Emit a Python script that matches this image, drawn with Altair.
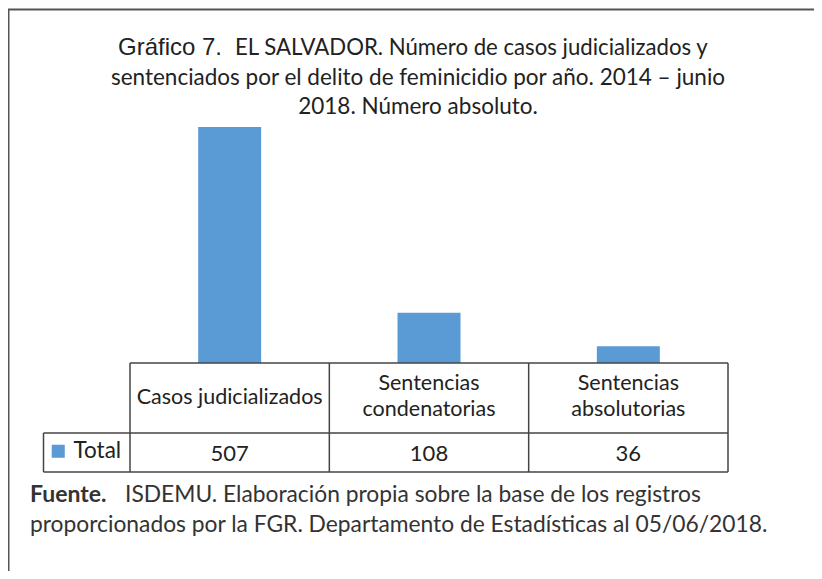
import altair as alt
import pandas as pd

categories = ["Casos judicializados", "Sentencias\ncondenatorias", "Sentencias\nabsolutorias"]
values = [507, 108, 36]
series_name = "Total"

title_lead = "Gráfico 7."
title_line1 = "EL SALVADOR. Número de casos judicializados y"
title_line2 = "sentenciados por el delito de feminicidio por año. 2014 – junio"
title_line3 = "2018. Número absoluto."
source_bold = "Fuente."
source_line1 = "ISDEMU. Elaboración propia sobre la base de los registros"
source_line2 = "proporcionados por la FGR. Departamento de Estadísticas al 05/06/2018."

df = pd.DataFrame({"cat": categories, "val": values, "series": [series_name] * 3})

W, H = 806, 563
CAL = "Lato"
xscale = alt.Scale(domain=categories, range=[122, 720], paddingInner=0, paddingOuter=0)
yscale = alt.Scale(domain=[0, 507], range=[355, 119], nice=False, zero=True)
X = alt.X("cat:N", scale=xscale, axis=None, sort=categories)

bars = alt.Chart(df).mark_bar(width=63, color="#5B9BD5").encode(
    x=X,
    y=alt.Y("val:Q", scale=yscale, axis=None),
    color=alt.Color("series:N", scale=alt.Scale(range=["#5B9BD5"]),
                    legend=alt.Legend(orient="none", legendX=39, legendY=432, title=None,
                                      symbolType="square", symbolSize=170, symbolStrokeWidth=0,
                                      labelFont=CAL, labelFontSize=22.5, labelColor="#222",
                                      symbolOffset=0, labelOffset=4)),
)

line_color = "#444"
vlines = alt.Chart(df).mark_rule(color=line_color, strokeWidth=1.5).encode(
    x=alt.X("cat:N", scale=xscale, axis=None, sort=categories, bandPosition=0),
    y=alt.value(355), y2=alt.value(464),
)
vlast = alt.Chart(df.tail(1)).mark_rule(color=line_color, strokeWidth=1.5).encode(
    x=alt.X("cat:N", scale=xscale, axis=None, sort=categories, bandPosition=1),
    y=alt.value(355), y2=alt.value(464),
)
hl = pd.DataFrame({"k": [0]})
h1 = alt.Chart(hl).mark_rule(color=line_color, strokeWidth=1.5).encode(
    x=alt.value(122), x2=alt.value(720), y=alt.value(355))
h2 = alt.Chart(hl).mark_rule(color=line_color, strokeWidth=1.5).encode(
    x=alt.value(35.5), x2=alt.value(720), y=alt.value(425))
h3 = alt.Chart(hl).mark_rule(color=line_color, strokeWidth=1.5).encode(
    x=alt.value(35.5), x2=alt.value(720), y=alt.value(464))
v0 = alt.Chart(hl).mark_rule(color=line_color, strokeWidth=1.5).encode(
    x=alt.value(35.5), y=alt.value(425), y2=alt.value(464))

cat_text = alt.Chart(df).transform_calculate(
    ty="indexof(datum.cat, '\\n') >= 0 ? 376 : 390"
).mark_text(font=CAL, fontSize=21.5, color="#222", lineBreak="\n",
            lineHeight=26, baseline="middle").encode(
    x=X, y=alt.Y("ty:Q", scale=None, axis=None), text="cat:N")
val_text = alt.Chart(df).mark_text(font=CAL, fontSize=22, color="#222", baseline="middle").encode(
    x=X, y=alt.value(446), text="val:Q")

border_top = alt.Chart(hl).mark_rule(color="#555", strokeWidth=2).encode(
    x=alt.value(0), x2=alt.value(W), y=alt.value(1.5))
border_left = alt.Chart(hl).mark_rule(color="#555", strokeWidth=1.5).encode(
    x=alt.value(0.75), y=alt.value(1), y2=alt.value(H))

def txt(s, x, y, font=CAL, size=22.5, weight="normal", align="left", color="#222"):
    return alt.Chart(pd.DataFrame({"t": [s]})).mark_text(
        font=font, fontSize=size, fontWeight=weight, align=align, baseline="middle", color=color
    ).encode(x=alt.value(x), y=alt.value(y), text="t:N")

t0 = txt(title_lead, 110, 40, font="Liberation Sans", size=24)
t1 = txt(title_line1, 227, 40, size=22.2)
t2 = txt(title_line2, 410, 70, align="center")
t3 = txt(title_line3, 410, 99, align="center")
s0 = txt(source_bold, 22, 487, weight="bold", color="#333", size=23)
s1 = txt(source_line1, 117, 487, color="#333", size=22.8)
s2 = txt(source_line2, 22, 517, color="#333", size=22.8)

chart = alt.layer(
    bars, vlines, vlast, h1, h2, h3, v0, cat_text, val_text,
    border_top, border_left, t0, t1, t2, t3, s0, s1, s2
).properties(
    width=W, height=H, autosize=alt.AutoSizeParams(type="none"), padding=0,
    background="white"
).configure_view(stroke=None)

chart.save("out.html", embed_options={"renderer": "svg", "actions": False})
